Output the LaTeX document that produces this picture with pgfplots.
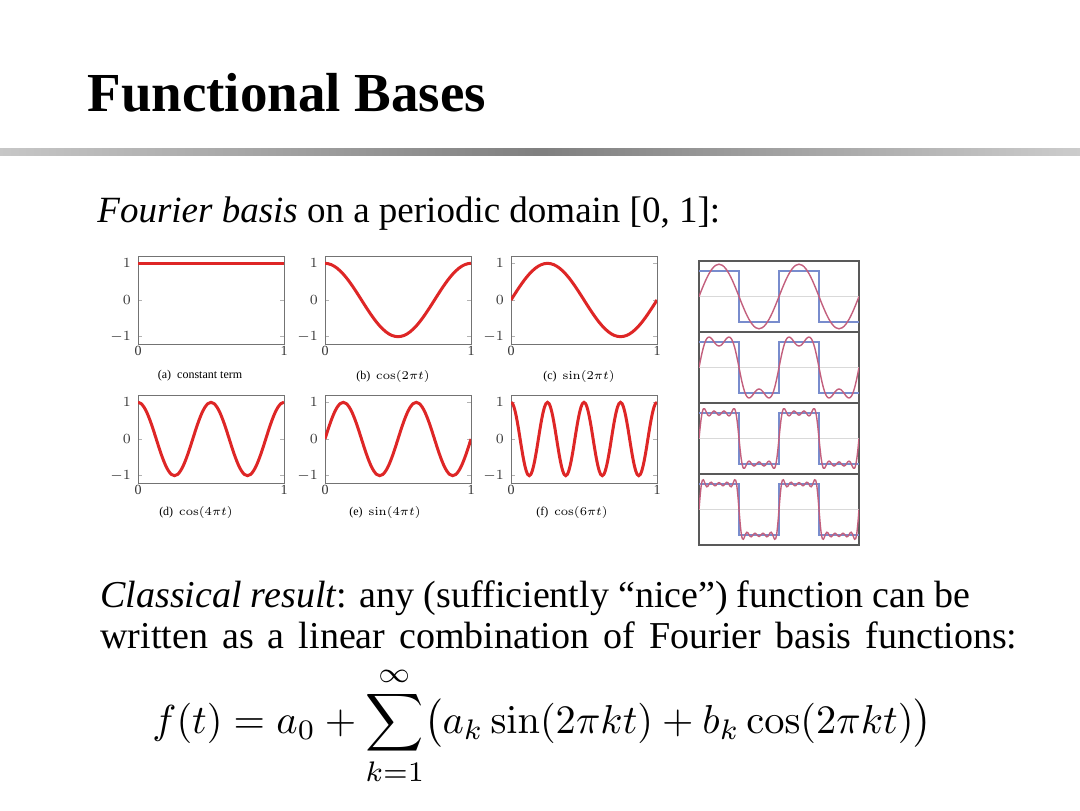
\documentclass[border=0pt]{standalone}
\usepackage[no-math]{fontspec}
\setmainfont{Liberation Serif}
\usepackage{graphicx}
\usepackage{pgfplots}
\pgfplotsset{compat=1.18}
\definecolor{cred}{RGB}{222,38,38}
\definecolor{cblue}{RGB}{120,140,205}
\definecolor{cmauve}{RGB}{195,95,125}
\pgfplotsset{
  basis/.style={scale only axis, width=73pt, height=44pt,
    xmin=0, xmax=48, ymin=-1.2, ymax=1.2,
    xtick={0,48}, xticklabels={0,1}, ytick={-1,0,1},
    axis line style={draw=black!55, line width=0.5pt},
    tick style={draw=black!30, line width=0.4pt},
    major tick length=2pt,
    tick label style={font=\fontsize{7}{8}\selectfont, text=black!80},
    xticklabel style={yshift=2.5pt},
    anchor=north west},
  sq/.style={scale only axis, width=80pt, height=35.5pt,
    xmin=0, xmax=720, ymin=-1.4, ymax=1.4, ticks=none,
    axis line style={draw=black!65, line width=0.8pt},
    anchor=north west},
  curve/.style={cred, line width=1.5pt, smooth},
  mid/.style={black!15, line width=0.6pt},
  sqw/.style={cblue, line width=0.7pt},
  ps/.style={cmauve, line width=0.7pt, smooth}
}
\begin{document}
\begin{tikzpicture}
\path[fill=white] (0pt,0pt) rectangle (540pt,-405pt);
\shade[left color=black!22, right color=black!20, middle color=black!50] (0pt,-74pt) rectangle (540pt,-77.5pt);
\node[anchor=base west, inner sep=0pt, font=\fontsize{27.5}{32}\selectfont\bfseries] at (43.5pt,-55.5pt) {Functional Bases};
\node[anchor=base west, inner sep=0pt, font=\fontsize{18.5}{22}\selectfont] at (48.5pt,-111pt) {\textit{Fourier basis} on a periodic domain [0, 1]:};

% ---- basis plots ----
\begin{axis}[basis, at={(69pt,-128pt)}]
\addplot[curve] coordinates {(0,1)(48,1)};
\end{axis}
\begin{axis}[basis, at={(162.5pt,-128pt)}]
\addplot[curve] coordinates {(0,1)(1,.991)(2,.966)(3,.924)(4,.866)(5,.793)(6,.707)(7,.609)(8,.5)(9,.383)(10,.259)(11,.131)(12,0)(13,-.131)(14,-.259)(15,-.383)(16,-.5)(17,-.609)(18,-.707)(19,-.793)(20,-.866)(21,-.924)(22,-.966)(23,-.991)(24,-1)(25,-.991)(26,-.966)(27,-.924)(28,-.866)(29,-.793)(30,-.707)(31,-.609)(32,-.5)(33,-.383)(34,-.259)(35,-.131)(36,0)(37,.131)(38,.259)(39,.383)(40,.5)(41,.609)(42,.707)(43,.793)(44,.866)(45,.924)(46,.966)(47,.991)(48,1)};
\end{axis}
\begin{axis}[basis, at={(255.5pt,-128pt)}]
\addplot[curve] coordinates {(0,0)(1,.131)(2,.259)(3,.383)(4,.5)(5,.609)(6,.707)(7,.793)(8,.866)(9,.924)(10,.966)(11,.991)(12,1)(13,.991)(14,.966)(15,.924)(16,.866)(17,.793)(18,.707)(19,.609)(20,.5)(21,.383)(22,.259)(23,.131)(24,0)(25,-.131)(26,-.259)(27,-.383)(28,-.5)(29,-.609)(30,-.707)(31,-.793)(32,-.866)(33,-.924)(34,-.966)(35,-.991)(36,-1)(37,-.991)(38,-.966)(39,-.924)(40,-.866)(41,-.793)(42,-.707)(43,-.609)(44,-.5)(45,-.383)(46,-.259)(47,-.131)(48,0)};
\end{axis}
\begin{axis}[basis, at={(69pt,-197.5pt)}]
\addplot[curve] coordinates {(0,1)(1,.966)(2,.866)(3,.707)(4,.5)(5,.259)(6,0)(7,-.259)(8,-.5)(9,-.707)(10,-.866)(11,-.966)(12,-1)(13,-.966)(14,-.866)(15,-.707)(16,-.5)(17,-.259)(18,0)(19,.259)(20,.5)(21,.707)(22,.866)(23,.966)(24,1)(25,.966)(26,.866)(27,.707)(28,.5)(29,.259)(30,0)(31,-.259)(32,-.5)(33,-.707)(34,-.866)(35,-.966)(36,-1)(37,-.966)(38,-.866)(39,-.707)(40,-.5)(41,-.259)(42,0)(43,.259)(44,.5)(45,.707)(46,.866)(47,.966)(48,1)};
\end{axis}
\begin{axis}[basis, at={(162.5pt,-197.5pt)}]
\addplot[curve] coordinates {(0,0)(1,.259)(2,.5)(3,.707)(4,.866)(5,.966)(6,1)(7,.966)(8,.866)(9,.707)(10,.5)(11,.259)(12,0)(13,-.259)(14,-.5)(15,-.707)(16,-.866)(17,-.966)(18,-1)(19,-.966)(20,-.866)(21,-.707)(22,-.5)(23,-.259)(24,0)(25,.259)(26,.5)(27,.707)(28,.866)(29,.966)(30,1)(31,.966)(32,.866)(33,.707)(34,.5)(35,.259)(36,0)(37,-.259)(38,-.5)(39,-.707)(40,-.866)(41,-.966)(42,-1)(43,-.966)(44,-.866)(45,-.707)(46,-.5)(47,-.259)(48,0)};
\end{axis}
\begin{axis}[basis, at={(255.5pt,-197.5pt)}]
\addplot[curve] coordinates {(0,1)(.5,.966)(1,.866)(1.5,.707)(2,.5)(2.5,.259)(3,0)(3.5,-.259)(4,-.5)(4.5,-.707)(5,-.866)(5.5,-.966)(6,-1)(6.5,-.966)(7,-.866)(7.5,-.707)(8,-.5)(8.5,-.259)(9,0)(9.5,.259)(10,.5)(10.5,.707)(11,.866)(11.5,.966)(12,1)
(12.5,.966)(13,.866)(13.5,.707)(14,.5)(14.5,.259)(15,0)(15.5,-.259)(16,-.5)(16.5,-.707)(17,-.866)(17.5,-.966)(18,-1)(18.5,-.966)(19,-.866)(19.5,-.707)(20,-.5)(20.5,-.259)(21,0)(21.5,.259)(22,.5)(22.5,.707)(23,.866)(23.5,.966)(24,1)
(24.5,.966)(25,.866)(25.5,.707)(26,.5)(26.5,.259)(27,0)(27.5,-.259)(28,-.5)(28.5,-.707)(29,-.866)(29.5,-.966)(30,-1)(30.5,-.966)(31,-.866)(31.5,-.707)(32,-.5)(32.5,-.259)(33,0)(33.5,.259)(34,.5)(34.5,.707)(35,.866)(35.5,.966)(36,1)
(36.5,.966)(37,.866)(37.5,.707)(38,.5)(38.5,.259)(39,0)(39.5,-.259)(40,-.5)(40.5,-.707)(41,-.866)(41.5,-.966)(42,-1)(42.5,-.966)(43,-.866)(43.5,-.707)(44,-.5)(44.5,-.259)(45,0)(45.5,.259)(46,.5)(46.5,.707)(47,.866)(47.5,.966)(48,1)};
\end{axis}
\begin{scope}[every node/.style={font=\fontsize{6}{7}\selectfont, inner sep=0pt}]
\node at (100pt,-188pt) {(a)\enspace constant term};
\node at (196.5pt,-188pt) {(b)\enspace $\cos(2\pi t)$};
\node at (289.5pt,-188pt) {(c)\enspace $\sin(2\pi t)$};
\node at (98pt,-256pt) {(d)\enspace $\cos(4\pi t)$};
\node at (192.5pt,-256pt) {(e)\enspace $\sin(4\pi t)$};
\node at (286pt,-256pt) {(f)\enspace $\cos(6\pi t)$};
\end{scope}

% ---- square wave approximations ----
\begin{axis}[sq, at={(349.5pt,-130.5pt)}]
\addplot[mid] coordinates {(0,0)(720,0)};
\addplot[sqw] coordinates {(0,1)(180,1)(180,-1)(360,-1)(360,1)(540,1)(540,-1)(720,-1)};
\addplot[ps] coordinates {(0,0)(15,.330)(30,.637)(45,.900)(60,1.103)(75,1.230)(90,1.273)(105,1.230)(120,1.103)(135,.900)(150,.637)(165,.330)(180,0)(195,-.330)(210,-.637)(225,-.900)(240,-1.103)(255,-1.230)(270,-1.273)(285,-1.230)(300,-1.103)(315,-.900)(330,-.637)(345,-.330)(360,0)(375,.330)(390,.637)(405,.900)(420,1.103)(435,1.230)(450,1.273)(465,1.230)(480,1.103)(495,.900)(510,.637)(525,.330)(540,0)(555,-.330)(570,-.637)(585,-.900)(600,-1.103)(615,-1.230)(630,-1.273)(645,-1.230)(660,-1.103)(675,-.900)(690,-.637)(705,-.330)(720,0)};
\end{axis}
\begin{axis}[sq, at={(349.5pt,-166pt)}]
\addplot[mid] coordinates {(0,0)(720,0)};
\addplot[sqw] coordinates {(0,1)(180,1)(180,-1)(360,-1)(360,1)(540,1)(540,-1)(720,-1)};
\addplot[ps] coordinates {(0,0)(5,.221)(10,.433)(15,.630)(20,.803)(25,.948)(30,1.061)(35,1.140)(40,1.186)(45,1.200)(50,1.188)(55,1.153)(60,1.103)(65,1.044)(70,.984)(75,.930)(80,.886)(85,.858)(90,.849)(95,.858)(100,.886)(105,.930)(110,.984)(115,1.044)(120,1.103)(125,1.153)(130,1.188)(135,1.200)(140,1.186)(145,1.140)(150,1.061)(155,.948)(160,.803)(165,.630)(170,.433)(175,.221)(180,0)
(185,-.221)(190,-.433)(195,-.630)(200,-.803)(205,-.948)(210,-1.061)(215,-1.140)(220,-1.186)(225,-1.200)(230,-1.188)(235,-1.153)(240,-1.103)(245,-1.044)(250,-.984)(255,-.930)(260,-.886)(265,-.858)(270,-.849)(275,-.858)(280,-.886)(285,-.930)(290,-.984)(295,-1.044)(300,-1.103)(305,-1.153)(310,-1.188)(315,-1.200)(320,-1.186)(325,-1.140)(330,-1.061)(335,-.948)(340,-.803)(345,-.630)(350,-.433)(355,-.221)(360,0)
(365,.221)(370,.433)(375,.630)(380,.803)(385,.948)(390,1.061)(395,1.140)(400,1.186)(405,1.200)(410,1.188)(415,1.153)(420,1.103)(425,1.044)(430,.984)(435,.930)(440,.886)(445,.858)(450,.849)(455,.858)(460,.886)(465,.930)(470,.984)(475,1.044)(480,1.103)(485,1.153)(490,1.188)(495,1.200)(500,1.186)(505,1.140)(510,1.061)(515,.948)(520,.803)(525,.630)(530,.433)(535,.221)(540,0)
(545,-.221)(550,-.433)(555,-.630)(560,-.803)(565,-.948)(570,-1.061)(575,-1.140)(580,-1.186)(585,-1.200)(590,-1.188)(595,-1.153)(600,-1.103)(605,-1.044)(610,-.984)(615,-.930)(620,-.886)(625,-.858)(630,-.849)(635,-.858)(640,-.886)(645,-.930)(650,-.984)(655,-1.044)(660,-1.103)(665,-1.153)(670,-1.188)(675,-1.200)(680,-1.186)(685,-1.140)(690,-1.061)(695,-.948)(700,-.803)(705,-.630)(710,-.433)(715,-.221)(720,0)};
\end{axis}
\begin{axis}[sq, at={(349.5pt,-201.5pt)}]
\addplot[mid] coordinates {(0,0)(720,0)};
\addplot[sqw] coordinates {(0,1)(180,1)(180,-1)(360,-1)(360,1)(540,1)(540,-1)(720,-1)};
\addplot[ps] coordinates {(0,0)(5,.433)(10,.799)(15,1.051)(20,1.171)(25,1.173)(30,1.097)(35,.998)(40,.920)(45,.892)(50,.917)(55,.976)(60,1.040)(65,1.079)(70,1.079)(75,1.043)(80,.988)(85,.940)(90,.922)(95,.940)(100,.988)(105,1.043)(110,1.079)(115,1.079)(120,1.040)(125,.976)(130,.917)(135,.892)(140,.920)(145,.998)(150,1.097)(155,1.173)(160,1.171)(165,1.051)(170,.799)(175,.433)(180,0)
(185,-.433)(190,-.799)(195,-1.051)(200,-1.171)(205,-1.173)(210,-1.097)(215,-.998)(220,-.920)(225,-.892)(230,-.917)(235,-.976)(240,-1.040)(245,-1.079)(250,-1.079)(255,-1.043)(260,-.988)(265,-.940)(270,-.922)(275,-.940)(280,-.988)(285,-1.043)(290,-1.079)(295,-1.079)(300,-1.040)(305,-.976)(310,-.917)(315,-.892)(320,-.920)(325,-.998)(330,-1.097)(335,-1.173)(340,-1.171)(345,-1.051)(350,-.799)(355,-.433)(360,0)
(365,.433)(370,.799)(375,1.051)(380,1.171)(385,1.173)(390,1.097)(395,.998)(400,.920)(405,.892)(410,.917)(415,.976)(420,1.040)(425,1.079)(430,1.079)(435,1.043)(440,.988)(445,.940)(450,.922)(455,.940)(460,.988)(465,1.043)(470,1.079)(475,1.079)(480,1.040)(485,.976)(490,.917)(495,.892)(500,.920)(505,.998)(510,1.097)(515,1.173)(520,1.171)(525,1.051)(530,.799)(535,.433)(540,0)
(545,-.433)(550,-.799)(555,-1.051)(560,-1.171)(565,-1.173)(570,-1.097)(575,-.998)(580,-.920)(585,-.892)(590,-.917)(595,-.976)(600,-1.040)(605,-1.079)(610,-1.079)(615,-1.043)(620,-.988)(625,-.940)(630,-.922)(635,-.940)(640,-.988)(645,-1.043)(650,-1.079)(655,-1.079)(660,-1.040)(665,-.976)(670,-.917)(675,-.892)(680,-.920)(685,-.998)(690,-1.097)(695,-1.173)(700,-1.171)(705,-1.051)(710,-.799)(715,-.433)(720,0)};
\end{axis}
\begin{axis}[sq, at={(349.5pt,-237pt)}]
\addplot[mid] coordinates {(0,0)(720,0)};
\addplot[sqw] coordinates {(0,1)(180,1)(180,-1)(360,-1)(360,1)(540,1)(540,-1)(720,-1)};
\addplot[ps] coordinates {(0,0)(5,.533)(10,.941)(15,1.151)(20,1.171)(25,1.072)(30,.956)(35,.898)(40,.920)(45,.992)(50,1.058)(55,1.076)(60,1.040)(65,.979)(70,.938)(75,.943)(80,.988)(85,1.040)(90,1.063)(95,1.040)(100,.988)(105,.943)(110,.938)(115,.979)(120,1.040)(125,1.076)(130,1.058)(135,.992)(140,.920)(145,.898)(150,.956)(155,1.072)(160,1.171)(165,1.151)(170,.941)(175,.533)(180,0)
(185,-.533)(190,-.941)(195,-1.151)(200,-1.171)(205,-1.072)(210,-.956)(215,-.898)(220,-.920)(225,-.992)(230,-1.058)(235,-1.076)(240,-1.040)(245,-.979)(250,-.938)(255,-.943)(260,-.988)(265,-1.040)(270,-1.063)(275,-1.040)(280,-.988)(285,-.943)(290,-.938)(295,-.979)(300,-1.040)(305,-1.076)(310,-1.058)(315,-.992)(320,-.920)(325,-.898)(330,-.956)(335,-1.072)(340,-1.171)(345,-1.151)(350,-.941)(355,-.533)(360,0)
(365,.533)(370,.941)(375,1.151)(380,1.171)(385,1.072)(390,.956)(395,.898)(400,.920)(405,.992)(410,1.058)(415,1.076)(420,1.040)(425,.979)(430,.938)(435,.943)(440,.988)(445,1.040)(450,1.063)(455,1.040)(460,.988)(465,.943)(470,.938)(475,.979)(480,1.040)(485,1.076)(490,1.058)(495,.992)(500,.920)(505,.898)(510,.956)(515,1.072)(520,1.171)(525,1.151)(530,.941)(535,.533)(540,0)
(545,-.533)(550,-.941)(555,-1.151)(560,-1.171)(565,-1.072)(570,-.956)(575,-.898)(580,-.920)(585,-.992)(590,-1.058)(595,-1.076)(600,-1.040)(605,-.979)(610,-.938)(615,-.943)(620,-.988)(625,-1.040)(630,-1.063)(635,-1.040)(640,-.988)(645,-.943)(650,-.938)(655,-.979)(660,-1.040)(665,-1.076)(670,-1.058)(675,-.992)(680,-.920)(685,-.898)(690,-.956)(695,-1.072)(700,-1.171)(705,-1.151)(710,-.941)(715,-.533)(720,0)};
\end{axis}

% ---- text below ----
\node[anchor=base west, inner sep=0pt, text depth=0pt, font=\fontsize{19}{23}\selectfont] at (50pt,-303.5pt) {\makebox[435pt][s]{\textit{Classical result}: any (sufficiently ``nice'') function can be}};
\node[anchor=base west, inner sep=0pt, text depth=0pt, font=\fontsize{19}{23}\selectfont] at (50pt,-324pt) {\makebox[458.5pt][s]{written as a linear combination of Fourier basis functions:}};
\node[anchor=base west, inner sep=0pt] at (76pt,-366.5pt) {\scalebox{2.02}{$\displaystyle f(t)=a_0+\sum_{k=1}^{\infty}\bigl(a_k\sin(2\pi kt)+b_k\cos(2\pi kt)\bigr)$}};
\end{tikzpicture}
\end{document}
